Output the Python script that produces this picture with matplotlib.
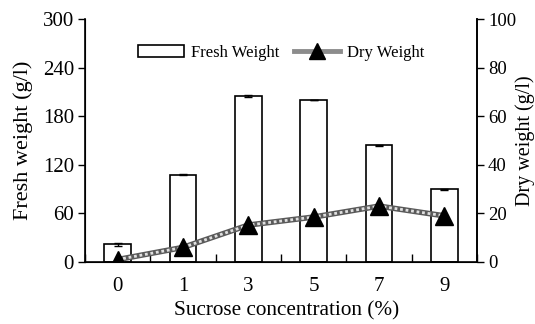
import matplotlib
matplotlib.use("Agg")
import matplotlib.pyplot as plt
import numpy as np
from matplotlib.lines import Line2D

categories = ["0", "1", "3", "5", "7", "9"]
fresh_weight = [22, 108, 205, 200, 144, 90]
fresh_err = [2, 1, 1, 0.5, 1, 0.5]
dry_weight = [1, 6, 15.2, 18.5, 23, 19]

plt.rcParams['font.family'] = ['Liberation Serif', 'DejaVu Serif']

fig = plt.figure(figsize=(5.35, 3.24), dpi=100)
ax = fig.add_axes([85/535, 1 - 262/324, (477-85)/535, (262-19)/324])
x = np.arange(len(categories))
ax.bar(x, fresh_weight, width=0.41, color='white', edgecolor='black', linewidth=1.2,
       yerr=fresh_err, error_kw=dict(ecolor='black', elinewidth=1, capsize=3, capthick=1),
       label='Fresh Weight', zorder=2)
ax.set_xlim(-0.5, len(categories) - 0.5)
ax.set_ylim(0, 300)
ax.set_yticks([0, 60, 120, 180, 240, 300])
ax.set_xticks(x)
ax.set_xticklabels(categories)
ax.tick_params(axis='x', which='major', length=0, pad=11, labelsize=15)
ax.set_xticks(np.arange(-0.5, len(categories)), minor=True)
ax.tick_params(axis='x', which='minor', direction='in', length=6, width=1)
ax.tick_params(axis='y', direction='out', length=5, width=1, labelsize=15, pad=3)
ax.spines['top'].set_visible(False)
for s in ['left', 'bottom', 'right']:
    ax.spines[s].set_linewidth(1.2)
ax.set_ylabel('Fresh weight (g/l)', fontsize=16, labelpad=7)
ax.set_xlabel('Sucrose concentration (%)', fontsize=15.3)
ax.xaxis.set_label_coords(0.515, -0.16)

ax2 = ax.twinx()
ax2.plot(x, dry_weight, color='#5a5a5a', linewidth=4, zorder=3, solid_capstyle='butt')
ax2.plot(x, dry_weight, color='#e0e0e0', linewidth=2, linestyle=(0, (1, 1)), zorder=3)
ax2.plot(x, dry_weight, linewidth=0, marker='^', markersize=13,
         markerfacecolor='black', markeredgecolor='black', zorder=4)
ax2.set_ylim(0, 100)
ax2.set_yticks([0, 20, 40, 60, 80, 100])
ax2.tick_params(axis='y', direction='out', length=5, width=1, labelsize=13.5, pad=3)
ax2.spines['top'].set_visible(False)
ax2.spines['right'].set_linewidth(1.2)
ax2.set_ylabel('Dry weight (g/l)', fontsize=14.5)
ax2.yaxis.set_label_coords(1.098, 0.5)

leg_line = Line2D([], [], color='#8c8c8c', linewidth=3.5, marker='^', markersize=11,
                  markerfacecolor='black', markeredgecolor='black')
h1, l1 = ax.get_legend_handles_labels()
ax.legend(h1 + [leg_line], l1 + ['Dry Weight'], loc='upper center', bbox_to_anchor=(0.5, 0.955),
          ncol=2, frameon=False, fontsize=12, handlelength=2.8, handleheight=0.75,
          columnspacing=0.85, handletextpad=0.4)

fig.savefig('out.png', dpi=100)
